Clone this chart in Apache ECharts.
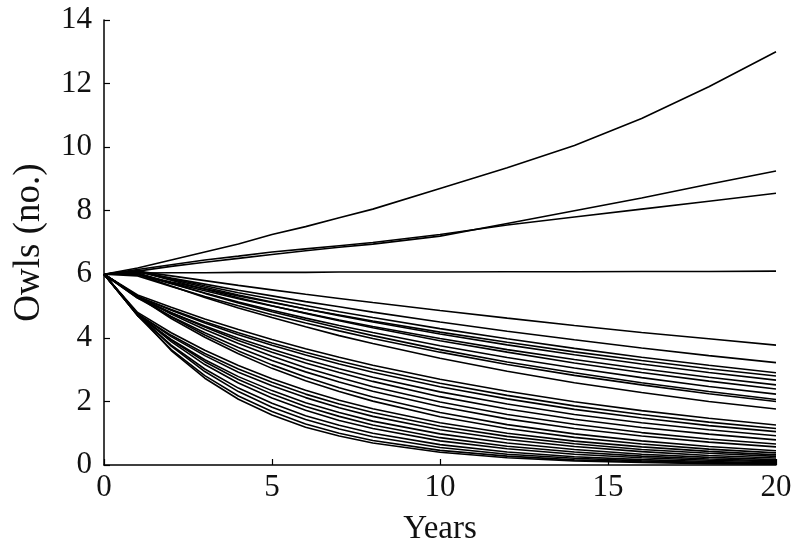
<!DOCTYPE html>
<html>
<head>
<meta charset="utf-8">
<script src="https://cdn.jsdelivr.net/npm/echarts@6/dist/echarts.min.js"></script>
<style>html,body{margin:0;padding:0;background:#fff}#c{width:799px;height:552px}</style>
</head>
<body>
<div id="c"></div>
<script>
const years = [0, 1, 2, 3, 4, 5, 6, 7, 8, 10, 12, 14, 16, 18, 20];
const xTicks = [0, 5, 10, 15, 20];
const yTicks = [0, 2, 4, 6, 8, 10, 12, 14];

const risingOwls = [
  [6, 6.2, 6.45, 6.7, 6.95, 7.25, 7.5, 7.78, 8.05, 8.7, 9.35, 10.05, 10.9, 11.9, 13.0],
  [6, 6.1, 6.25, 6.38, 6.5, 6.62, 6.74, 6.85, 6.95, 7.2, 7.6, 8.0, 8.4, 8.83, 9.25],
  [6, 6.15, 6.3, 6.45, 6.57, 6.7, 6.8, 6.9, 7.0, 7.25, 7.55, 7.8, 8.05, 8.3, 8.55],
  [6, 6.04, 6.05, 6.05, 6.06, 6.06, 6.06, 6.07, 6.07, 6.07, 6.08, 6.08, 6.09, 6.09, 6.1]
];

const declineA = [
  [6, 6.1, 5.95, 5.8, 5.65, 5.51, 5.37, 5.24, 5.11, 4.86, 4.62, 4.39, 4.17, 3.97, 3.77],
  [6, 6.08, 5.88, 5.69, 5.50, 5.32, 5.14, 4.98, 4.81, 4.50, 4.21, 3.94, 3.68, 3.44, 3.22],
  [6, 6.1, 5.87, 5.64, 5.42, 5.22, 5.02, 4.82, 4.64, 4.29, 3.97, 3.67, 3.39, 3.14, 2.9],
  [6, 6.0, 5.76, 5.54, 5.32, 5.11, 4.91, 4.72, 4.53, 4.18, 3.86, 3.56, 3.29, 3.03, 2.8],
  [6, 6.1, 5.84, 5.59, 5.35, 5.13, 4.91, 4.70, 4.50, 4.12, 3.78, 3.47, 3.18, 2.91, 2.67],
  [6, 6.0, 5.73, 5.48, 5.23, 5.00, 4.78, 4.56, 4.36, 3.98, 3.63, 3.32, 3.03, 2.76, 2.52],
  [6, 6.1, 5.81, 5.53, 5.26, 5.01, 4.77, 4.54, 4.32, 3.91, 3.55, 3.21, 2.91, 2.64, 2.39],
  [6, 6.0, 5.70, 5.41, 5.13, 4.87, 4.62, 4.39, 4.17, 3.75, 3.38, 3.05, 2.75, 2.47, 2.23],
  [6, 6.05, 5.72, 5.40, 5.10, 4.82, 4.56, 4.31, 4.07, 3.63, 3.24, 2.90, 2.59, 2.31, 2.06],
  [6, 5.95, 5.62, 5.30, 5.01, 4.73, 4.47, 4.22, 3.98, 3.55, 3.16, 2.82, 2.52, 2.24, 2.0],
  [6, 6.0, 5.63, 5.27, 4.94, 4.64, 4.35, 4.07, 3.82, 3.36, 2.95, 2.59, 2.28, 2.00, 1.76]
];

const declineB = [
  [6, 5.35, 4.96, 4.59, 4.26, 3.95, 3.66, 3.39, 3.14, 2.70, 2.32, 1.99, 1.71, 1.47, 1.26],
  [6, 5.3, 4.89, 4.51, 4.16, 3.84, 3.55, 3.27, 3.02, 2.57, 2.19, 1.86, 1.59, 1.35, 1.15],
  [6, 5.3, 4.87, 4.47, 4.10, 3.77, 3.46, 3.18, 2.92, 2.46, 2.08, 1.75, 1.48, 1.24, 1.05],
  [6, 5.25, 4.79, 4.37, 3.99, 3.64, 3.32, 3.03, 2.76, 2.30, 1.92, 1.59, 1.33, 1.11, 0.92],
  [6, 5.3, 4.79, 4.34, 3.92, 3.55, 3.21, 2.91, 2.63, 2.15, 1.76, 1.44, 1.18, 0.97, 0.79],
  [6, 5.3, 4.75, 4.26, 3.82, 3.42, 3.06, 2.75, 2.46, 1.98, 1.59, 1.28, 1.02, 0.82, 0.66],
  [6, 5.25, 4.67, 4.16, 3.70, 3.29, 2.93, 2.61, 2.32, 1.84, 1.45, 1.15, 0.91, 0.72, 0.57],
  [6, 5.3, 4.66, 4.09, 3.59, 3.15, 2.77, 2.43, 2.14, 1.65, 1.27, 0.98, 0.76, 0.58, 0.45],
  [6, 5.3, 4.61, 4.02, 3.50, 3.04, 2.65, 2.31, 2.01, 1.52, 1.15, 0.87, 0.66, 0.50, 0.38]
];

const declineC = [
  [6, 4.8, 4.16, 3.61, 3.13, 2.71, 2.35, 2.04, 1.77, 1.33, 1.00, 0.75, 0.57, 0.43, 0.32],
  [6, 4.75, 4.08, 3.51, 3.02, 2.60, 2.23, 1.92, 1.65, 1.22, 0.90, 0.67, 0.49, 0.37, 0.27],
  [6, 4.75, 4.04, 3.44, 2.92, 2.49, 2.12, 1.80, 1.53, 1.11, 0.80, 0.58, 0.42, 0.30, 0.22],
  [6, 4.7, 3.95, 3.31, 2.78, 2.34, 1.96, 1.65, 1.38, 0.98, 0.69, 0.49, 0.34, 0.24, 0.17],
  [6, 4.75, 3.93, 3.25, 2.69, 2.23, 1.84, 1.53, 1.26, 0.86, 0.59, 0.41, 0.28, 0.19, 0.13],
  [6, 4.75, 3.88, 3.16, 2.58, 2.11, 1.72, 1.40, 1.15, 0.76, 0.51, 0.34, 0.23, 0.15, 0.10],
  [6, 4.7, 3.77, 3.02, 2.42, 1.94, 1.55, 1.25, 1.00, 0.64, 0.41, 0.26, 0.17, 0.11, 0.07],
  [6, 4.75, 3.74, 2.94, 2.31, 1.82, 1.43, 1.13, 0.89, 0.55, 0.34, 0.21, 0.13, 0.08, 0.05],
  [6, 4.7, 3.63, 2.81, 2.17, 1.68, 1.29, 1.00, 0.77, 0.46, 0.28, 0.16, 0.10, 0.06, 0.035],
  [6, 4.75, 3.60, 2.73, 2.07, 1.57, 1.19, 0.91, 0.69, 0.40, 0.23, 0.13, 0.08, 0.04, 0.025]
];

const allLines = [].concat(risingOwls, declineA, declineB, declineC);
const font = "'Liberation Serif', 'Times New Roman', serif";

const series = allLines.map(vals => ({
  type: 'line',
  data: years.map((x, i) => [x, vals[i]]),
  showSymbol: false,
  symbol: 'none',
  silent: true,
  clip: true,
  lineStyle: { color: '#000', width: 1.6 }
}));

const chart = echarts.init(document.getElementById('c'), null, { renderer: 'canvas' });
chart.setOption({
  animation: false,
  backgroundColor: '#fff',
  grid: { left: 104, right: 23, top: 20, bottom: 87, containLabel: false },
  xAxis: {
    type: 'value',
    min: xTicks[0], max: xTicks[xTicks.length - 1], interval: 5,
    name: 'Years', nameLocation: 'middle', nameGap: 48,
    nameTextStyle: { fontFamily: font, fontSize: 33, color: '#111' },
    axisLine: { show: true, onZero: false, lineStyle: { color: '#000', width: 1.5 } },
    axisTick: { show: true, inside: true, length: 6, lineStyle: { color: '#000', width: 1.2 } },
    axisLabel: { fontFamily: font, fontSize: 31, color: '#111', margin: 7 },
    splitLine: { show: false }
  },
  yAxis: {
    type: 'value',
    min: yTicks[0], max: yTicks[yTicks.length - 1], interval: 2,
    name: 'Owls (no.)', nameLocation: 'middle', nameGap: 56,
    nameTextStyle: { fontFamily: font, fontSize: 37, color: '#111' },
    axisLine: { show: true, onZero: false, lineStyle: { color: '#000', width: 1.5 } },
    axisTick: { show: true, inside: true, length: 6, lineStyle: { color: '#000', width: 1.2 } },
    axisLabel: { fontFamily: font, fontSize: 31, color: '#111', margin: 12 },
    splitLine: { show: false }
  },
  series: series
});
</script>
</body>
</html>
